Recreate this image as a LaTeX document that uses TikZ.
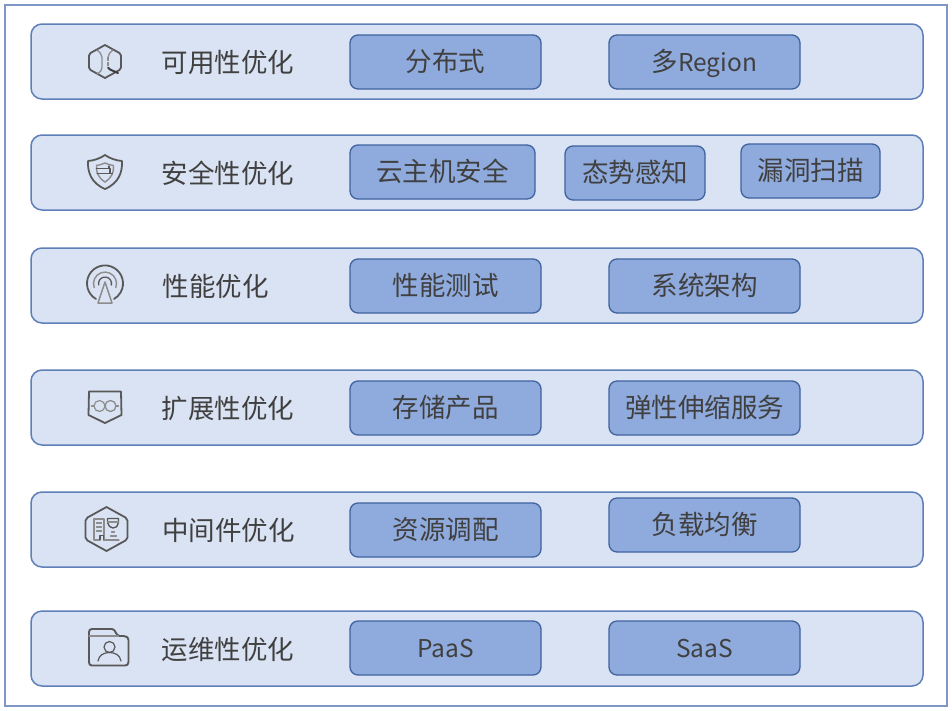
\documentclass[tikz,border=0pt]{standalone}
\usepackage{fontspec}
\setmainfont{Noto Sans CJK SC}
\definecolor{framec}{HTML}{7F97C6}
\definecolor{rowfill}{HTML}{DAE3F3}
\definecolor{rowline}{HTML}{5F7FB8}
\definecolor{boxfill}{HTML}{8FAADC}
\definecolor{boxline}{HTML}{3F639F}
\definecolor{txt}{HTML}{404040}
\definecolor{ico}{HTML}{595959}
\definecolor{icol}{HTML}{8C8C8C}
\newcommand{\lat}[1]{{\fontsize{24.5}{30}\selectfont #1}}
\tikzset{
  rowbox/.style={draw=rowline,fill=rowfill,line width=1.5pt,rounded corners=11pt,minimum width=892pt,minimum height=75pt,inner sep=0pt,anchor=center},
  itembox/.style={draw=boxline,fill=boxfill,line width=1.3pt,rounded corners=8pt,minimum height=54pt,inner sep=0pt,anchor=center,text=txt,font=\fontsize{26.5}{30}\selectfont,text height=24pt,text depth=6pt},
  wide/.style={minimum width=191pt},
  titletext/.style={text=txt,font=\fontsize{26.5}{30}\selectfont,inner sep=0pt,anchor=west},
  iconA/.style={draw=ico,line width=1.8pt,line join=round,line cap=round},
  iconB/.style={draw=icol,line width=1.3pt,line join=round,line cap=round}
}
\begin{document}
\begin{tikzpicture}[x=1pt,y=-1pt]
\useasboundingbox (0,0) rectangle (952,710);
\fill[white] (0,0) rectangle (952,710);
\draw[framec,line width=1.5pt] (5,5) rectangle (947,706);
% rows
\node[rowbox] (r1) at (477,61.5) {};
\node[rowbox] (r2) at (477,172.5) {};
\node[rowbox] (r3) at (477,285.5) {};
\node[rowbox] (r4) at (477,407.5) {};
\node[rowbox] (r5) at (477,529.5) {};
\node[rowbox] (r6) at (477,648.5) {};
% titles
\node[titletext] (t1) at (161.5,62) {可用性优化};
\node[titletext] (t2) at (161.5,173) {安全性优化};
\node[titletext] (t3) at (162.5,286) {性能优化};
\node[titletext] (t4) at (161.5,408) {扩展性优化};
\node[titletext] (t5) at (162,530) {中间件优化};
\node[titletext] (t6) at (161.5,649) {运维性优化};
% items
\node[itembox,wide] (a1) at (445.5,62) {分布式};
\node[itembox,wide] (b1) at (704.5,62) {多\lat{Region}};
\node[itembox,minimum width=185pt] (a2) at (442.5,172) {云主机安全};
\node[itembox,minimum width=140pt] (b2) at (635,173) {态势感知};
\node[itembox,minimum width=139pt] (c2) at (810.5,171) {漏洞扫描};
\node[itembox,wide] (a3) at (445.5,286) {性能测试};
\node[itembox,wide] (b3) at (704.5,286) {系统架构};
\node[itembox,wide] (a4) at (445.5,408) {存储产品};
\node[itembox,wide] (b4) at (704.5,408) {弹性伸缩服务};
\node[itembox,wide] (a5) at (445.5,530) {资源调配};
\node[itembox,wide] (b5) at (704.5,525) {负载均衡};
\node[itembox,wide] (a6) at (445.5,648) {\lat{PaaS}};
\node[itembox,wide] (b6) at (704.5,648) {\lat{SaaS}};
% icon 1: hexagon
\begin{scope}[shift={(105,61.5)}]
  \draw[iconA] (0,-16.5) -- (14.5,-8.5) -- (16,-6) -- (16,6) -- (14.5,8.5) -- (0,16.5) -- (-14.5,8.5) -- (-16,6) -- (-16,-6) -- (-14.5,-8.5) -- cycle;
  \draw[iconB] (-8,-11.5) .. controls (-5,-9) and (-3,-7) .. (-3,-4) -- (-3,6) .. controls (-3,9) and (-5,11) .. (-8,12.5);
  \draw[iconB] (8,-11.5) .. controls (5,-9) and (3,-7) .. (3,-4);
  \draw[iconB,dash pattern=on 3pt off 2pt] (3,-4) -- (3,5);
  \draw[draw=ico!70!black,line width=2pt,line cap=round] (3,6) -- (5,8) -- (13,11.5);
\end{scope}
% icon 2: shield
\begin{scope}[shift={(105,172)}]
  \draw[iconA] (0,-17) .. controls (5,-13.5) and (11,-11.5) .. (17,-11) .. controls (17.5,0) and (14,11) .. (0,17) .. controls (-14,11) and (-17.5,0) .. (-17,-11) .. controls (-11,-11.5) and (-5,-13.5) .. (0,-17) -- cycle;
  \draw[iconB,line width=1.4pt] (0,-9) .. controls (3,-7.5) and (6,-7) .. (8.5,-6.5) .. controls (9,0) and (7,5.5) .. (0,10) .. controls (-7,5.5) and (-9,0) .. (-8.5,-6.5) .. controls (-6,-7) and (-3,-7.5) .. (0,-9) -- cycle;
  \draw[iconA,line width=1.2pt] (-8.5,-3.5) -- (4,-3.5) -- (4,-6) (-8,1.5) -- (7.5,1.5) (5,-3.5) -- (5,1.5);
\end{scope}
% icon 3: antenna
\begin{scope}[shift={(105,283.5)}]
  \draw[iconA,line width=1.8pt] (-9,15.5) arc[start angle=120,end angle=420,radius=18];
  \draw[iconB,line width=1.4pt] (-10.8,4) arc[start angle=160,end angle=380,radius=11.5];
  \draw[iconA,line width=1.3pt] (-6.3,1.5) arc[start angle=167,end angle=373,radius=6.5];
  \draw[iconB,line width=1.5pt] (0,-1.5) -- (7,19.5) -- (-7,19.5) -- cycle;
\end{scope}
% icon 4: pentagon badge
\begin{scope}[shift={(105,407)}]
  \draw[iconA] (-16,-15.5) -- (16,-15.5) -- (16.5,8) -- (0,16) -- (-16.5,8) -- cycle;
  \draw[iconB,densely dotted,line width=1.3pt] (-5.5,-1) circle (5.5);
  \draw[iconB,line width=1.3pt] (5.5,-1) circle (5.5);
  \draw[iconB] (-13.5,-1) -- (-11,-1) (11,-1) -- (13.5,-1);
\end{scope}
% icon 5: hexagon with panels
\begin{scope}[shift={(106.5,529)}]
  \draw[iconA] (0,-22) -- (19,-11.5) -- (21,-8.5) -- (21,8.5) -- (19,11.5) -- (0,22) -- (-19,11.5) -- (-21,8.5) -- (-21,-8.5) -- (-19,-11.5) -- cycle;
  \draw[iconB,line width=1.3pt] (-7,11) -- (-12.5,11) -- (-12.5,-10) -- (-2.5,-10) -- (-2.5,11);
  \draw[iconB] (-10,-6) -- (-5,-6) (-10,-2) -- (-5,-2) (-10,2) -- (-5,2);
  \draw[iconA,line width=1.2pt] (-6.5,11) -- (-6.5,6.5) -- (-3,6.5) -- (-3,11);
  \draw[iconA,line width=1.4pt] (1,-10.5) -- (12,-10.5) -- (12,-7) .. controls (11,-2) and (9,-1) .. (6.5,-1) .. controls (4,-1) and (2,-3) .. (1,-7) -- cycle;
  \draw[iconB] (1,-7) -- (12,-7);
  \draw[iconB] (5,3) -- (8,3) (4,7) -- (10,7);
  \draw[iconB,line width=1.3pt] (-2.5,11) -- (12.5,11);
\end{scope}
% icon 6: folder with person
\begin{scope}[shift={(88,629)}]
  \draw[iconA,line width=1.9pt] (1,3) .. controls (1,1) and (2,0) .. (4,0) -- (24,0) .. controls (26,0) and (27,2) .. (28,4) .. controls (29,6) and (30,7) .. (32,7) -- (36,7) .. controls (39,7) and (40.5,9) .. (40.5,11) -- (40.5,33) .. controls (40.5,35.5) and (39,36.5) .. (37,36.5) -- (4,36.5) .. controls (2,36.5) and (1,35.5) .. (1,33) -- cycle;
  \draw[iconB,line width=1.3pt] (1,7) -- (30,7);
  \draw[iconA,line width=1.2pt] (21.5,18) circle (5.5);
  \draw[iconA,line width=1.2pt] (10,32) .. controls (11,26) and (16,23.5) .. (21.5,23.5) .. controls (27,23.5) and (32,26) .. (33,32);
\end{scope}
\end{tikzpicture}
\end{document}
